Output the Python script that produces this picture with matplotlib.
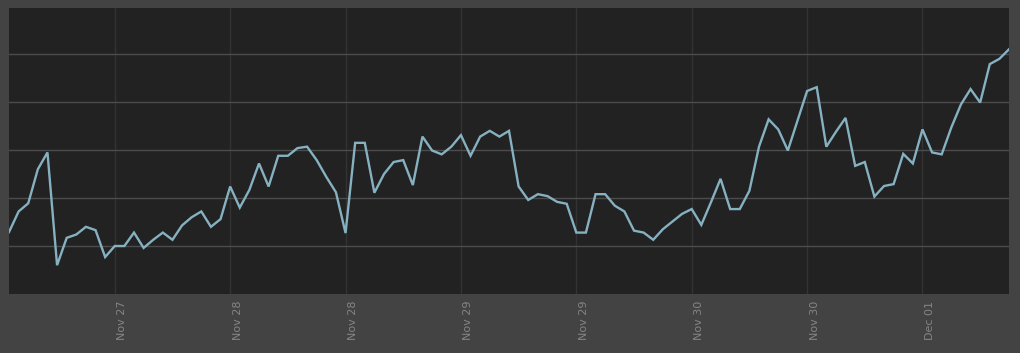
import matplotlib
matplotlib.use("Agg")
import matplotlib.pyplot as plt
import matplotlib.dates as mdates
import matplotlib.transforms as mtransforms
import numpy as np
import pandas as pd

# hourly series, Nov 27 01:00 -> Dec 01 09:00
START = "2013-11-27 01:00"
VALUES = [
    1.29, 1.72, 1.89, 2.60, 2.95, 0.60, 1.17, 1.24, 1.40, 1.33,
    0.77, 1.00, 1.00, 1.28, 0.96, 1.13, 1.28, 1.13, 1.43, 1.60,
    1.72, 1.40, 1.56, 2.24, 1.80, 2.17, 2.72, 2.24, 2.88, 2.88,
    3.04, 3.07, 2.79, 2.44, 2.12, 1.27, 3.15, 3.15, 2.11, 2.50,
    2.75, 2.79, 2.27, 3.28, 2.99, 2.91, 3.07, 3.31, 2.88, 3.28,
    3.40, 3.28, 3.40, 2.24, 1.96, 2.08, 2.04, 1.92, 1.88, 1.28,
    1.28, 2.08, 2.08, 1.84, 1.72, 1.32, 1.28, 1.13, 1.35, 1.51,
    1.67, 1.77, 1.44, 1.91, 2.40, 1.77, 1.77, 2.15, 3.07, 3.64,
    3.43, 2.99, 3.61, 4.23, 4.31, 3.07, 3.38, 3.67, 2.67, 2.75,
    2.03, 2.25, 2.29, 2.92, 2.72, 3.43, 2.95, 2.91, 3.47, 3.95,
    4.27, 3.99, 4.79, 4.90, 5.10,
]
Y_MAX = 5.96

OUTER_BG = "#434343"
PLOT_BG = "#222222"
LINE_COLOR = "#86b1c1"
TICK_COLOR = "#858585"

times = pd.date_range(START, periods=len(VALUES), freq="h")

fig = plt.figure(figsize=(10.2001, 3.5301), dpi=100, facecolor=OUTER_BG)
ax = fig.add_axes([9 / 1020, 59 / 353, 1000 / 1020, 286 / 353])
ax.set_facecolor(PLOT_BG)

ax.plot(times, VALUES, color=LINE_COLOR, linewidth=1.7, solid_joinstyle="miter")

ax.set_xlim(times[0], times[-1])
ax.set_ylim(0, Y_MAX)
ax.set_yticks(np.arange(1, 6))
ax.tick_params(axis="y", length=0, labelleft=False)

ax.xaxis.set_major_locator(mdates.HourLocator(byhour=[0, 12]))
ax.xaxis.set_major_formatter(mdates.DateFormatter("%b %d"))
ax.tick_params(axis="x", length=0, pad=5, colors=TICK_COLOR, labelsize=8)
shift = mtransforms.ScaledTranslation(2.5 / 100, 0, fig.dpi_scale_trans)
for lbl in ax.get_xticklabels():
    lbl.set_rotation(90)
    lbl.set_ha("left")
    lbl.set_va("top")
    lbl.set_transform(lbl.get_transform() + shift)

ax.grid(axis="y", color="#4c4c4c", linewidth=1.0)
ax.grid(axis="x", color="#333333", linewidth=1.0)
ax.set_axisbelow(True)
for s in ax.spines.values():
    s.set_visible(False)

fig.savefig("out.png", dpi=100, facecolor=OUTER_BG)
